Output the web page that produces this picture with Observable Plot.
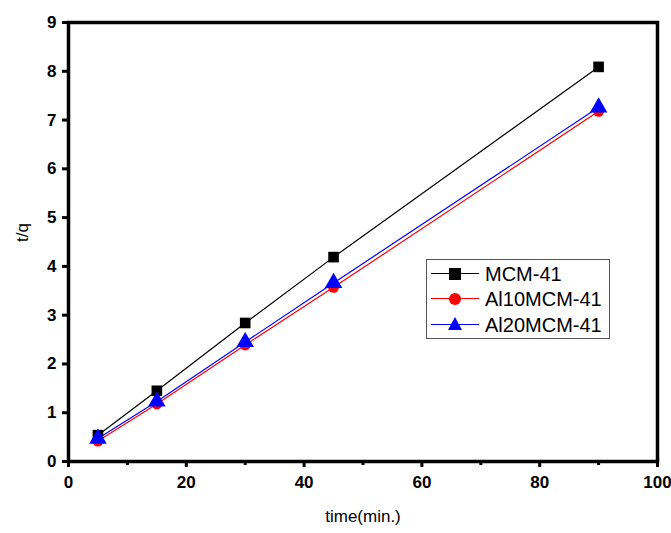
<!DOCTYPE html>
<html><head><meta charset="utf-8">
<script src="https://cdn.jsdelivr.net/npm/d3@7"></script>
<script src="https://cdn.jsdelivr.net/npm/@observablehq/plot@0.6"></script>
<style>
body{margin:0;background:#fff;font-family:"Liberation Sans",Arial,sans-serif;}
#wrap{position:relative;width:671px;height:533px;}
#legend{position:absolute;left:426px;top:259px;width:184px;height:80px;border:1px solid #555;background:#fff;box-sizing:border-box;}
.row{position:absolute;left:0;width:180px;height:26px;font-size:20px;line-height:26px;color:#000;font-family:"Liberation Sans",Arial,sans-serif;}
.ln{position:absolute;left:4px;width:48px;top:12px;height:1.3px;}
.mk{position:absolute;}
.lbl{position:absolute;left:58px;top:0;}
</style>
</head><body>
<div id="wrap"></div>
<script>
const times = [5, 15, 30, 45, 90];
const mcm41 = [0.54, 1.45, 2.84, 4.19, 8.09];
const al10 = [0.42, 1.18, 2.39, 3.57, 7.18];
const al20 = [0.47, 1.23, 2.45, 3.66, 7.26];
const seriesNames = ["MCM-41", "Al10MCM-41", "Al20MCM-41"];
const seriesColors = ["#000000", "#ff0000", "#0000ff"];
const seriesSymbols = ["square", "circle", "triangle"];
const xMajor = [0, 20, 40, 60, 80, 100];
const xMinor = [10, 30, 50, 70, 90];
const yMajor = [0, 1, 2, 3, 4, 5, 6, 7, 8, 9];

const values = [mcm41, al10, al20];
const data = [];
values.forEach((vals, i) => vals.forEach((v, j) => data.push({series: seriesNames[i], t: times[j], q: v})));

const FONT = "Liberation Sans, Arial, sans-serif";
const marks = [];
seriesNames.forEach((name, i) => {
  const d = data.filter(r => r.series === name);
  marks.push(Plot.line(d, {x: "t", y: "q", stroke: seriesColors[i], strokeWidth: 1.2}));
});
seriesNames.forEach((name, i) => {
  const d = data.filter(r => r.series === name);
  marks.push(Plot.dot(d, {x: "t", y: "q", fill: seriesColors[i], stroke: "none", symbol: seriesSymbols[i], r: i === 2 ? 6.5 : (i === 0 ? 6 : 5.5)}));
});

const chart = Plot.plot({
  width: 671, height: 533,
  marginLeft: 68, marginRight: 14, marginTop: 22, marginBottom: 72,
  x: {domain: [0, 100]},
  y: {domain: [0, 9]},
  marks: [
    ...marks,
    Plot.frame({stroke: "#000", strokeWidth: 3.5}),
    Plot.axisX({ticks: xMajor, tickSize: 6, tickPadding: 8, strokeWidth: 3, fontSize: 17, fontWeight: "bold", fontFamily: FONT, label: null}),
    Plot.axisX({ticks: xMinor, tickSize: 4, strokeWidth: 3, tickFormat: () => "", label: null}),
    Plot.axisY({ticks: yMajor, tickSize: 6, tickPadding: 6, strokeWidth: 3, fontSize: 17, fontWeight: "bold", fontFamily: FONT, label: null}),
    Plot.text(["time(min.)"], {frameAnchor: "bottom", dy: 60, fontSize: 17, fontFamily: FONT, fill: "#000"}),
    Plot.text(["t/q"], {frameAnchor: "left", dx: -46, rotate: -90, fontSize: 17, fontFamily: FONT, fill: "#000"})
  ]
});
const wrap = document.getElementById("wrap");
wrap.appendChild(chart);

const legend = document.createElement("div");
legend.id = "legend";
const rowTops = [1, 26, 52];
seriesNames.forEach((name, i) => {
  const row = document.createElement("div");
  row.className = "row";
  row.style.top = rowTops[i] + "px";
  const c = seriesColors[i];
  let marker;
  if (seriesSymbols[i] === "square") marker = `<div class="mk" style="left:22px;top:6.5px;width:12px;height:12px;background:${c}"></div>`;
  else if (seriesSymbols[i] === "circle") marker = `<div class="mk" style="left:22px;top:6.5px;width:12px;height:12px;border-radius:50%;background:${c}"></div>`;
  else marker = `<div class="mk" style="left:21px;top:5px;width:0;height:0;border-left:7px solid transparent;border-right:7px solid transparent;border-bottom:13px solid ${c}"></div>`;
  row.innerHTML = `<div class="ln" style="background:${c}"></div>${marker}<span class="lbl">${name}</span>`;
  legend.appendChild(row);
});
wrap.appendChild(legend);
</script>
</body></html>
